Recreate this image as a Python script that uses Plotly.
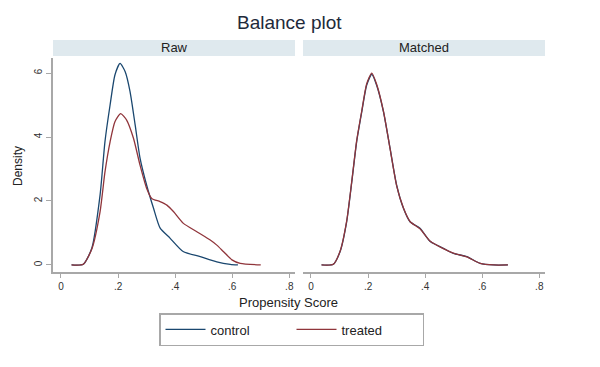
import plotly.graph_objects as go
from plotly.subplots import make_subplots

# Raw panel
raw_ctrl_x = [0.037, 0.078, 0.108, 0.137, 0.154, 0.172, 0.189, 0.207, 0.225, 0.242, 0.26, 0.277, 0.30, 0.324, 0.347, 0.382, 0.428, 0.488, 0.546, 0.593, 0.62]
raw_ctrl_y = [0.0, 0.02, 0.52, 2.19, 3.85, 5.0, 5.94, 6.3, 6.04, 5.42, 4.37, 3.34, 2.5, 1.78, 1.16, 0.84, 0.42, 0.26, 0.1, 0.02, 0.0]
raw_trt_x = [0.037, 0.078, 0.108, 0.137, 0.154, 0.172, 0.189, 0.209, 0.23, 0.254, 0.277, 0.30, 0.318, 0.347, 0.371, 0.394, 0.429, 0.476, 0.523, 0.546, 0.569, 0.599, 0.628, 0.70]
raw_trt_y = [0.0, 0.02, 0.5, 1.67, 2.9, 3.85, 4.48, 4.73, 4.53, 3.96, 3.12, 2.4, 2.08, 1.98, 1.87, 1.67, 1.3, 1.04, 0.78, 0.62, 0.42, 0.16, 0.05, 0.0]

# Matched panel
m_ctrl_x = [0.037, 0.078, 0.102, 0.125, 0.143, 0.16, 0.178, 0.195, 0.213, 0.23, 0.254, 0.277, 0.30, 0.324, 0.347, 0.382, 0.418, 0.464, 0.499, 0.546, 0.593, 0.64, 0.69]
m_ctrl_y = [0.0, 0.02, 0.42, 1.35, 2.6, 3.85, 4.79, 5.62, 5.96, 5.62, 4.79, 3.65, 2.5, 1.77, 1.35, 1.15, 0.73, 0.52, 0.36, 0.26, 0.05, 0.0, 0.0]
m_trt_x = [0.037, 0.078, 0.102, 0.125, 0.143, 0.16, 0.178, 0.195, 0.213, 0.23, 0.254, 0.277, 0.30, 0.324, 0.347, 0.382, 0.418, 0.464, 0.499, 0.546, 0.593, 0.64, 0.69]
m_trt_y = [0.0, 0.02, 0.43, 1.37, 2.62, 3.88, 4.82, 5.66, 6.0, 5.65, 4.8, 3.64, 2.48, 1.78, 1.36, 1.13, 0.74, 0.51, 0.37, 0.25, 0.05, 0.0, 0.0]

x_tickvals = [0, 0.2, 0.4, 0.6, 0.8]
x_ticktext = ["0", ".2", ".4", ".6", ".8"]
y_tickvals = [0, 2, 4, 6]
y_ticktext = ["0", "2", "4", "6"]

NAVY = "#1a476f"
MAROON = "#90353b"
FONT = "Liberation Sans, Arial, sans-serif"

fig = make_subplots(rows=1, cols=2, shared_yaxes=True)

fig.add_trace(go.Scatter(x=raw_ctrl_x, y=raw_ctrl_y, mode="lines", name="control",
                         line=dict(color=NAVY, width=1.3, shape="spline", smoothing=0.6)), 1, 1)
fig.add_trace(go.Scatter(x=raw_trt_x, y=raw_trt_y, mode="lines", name="treated",
                         line=dict(color=MAROON, width=1.3, shape="spline", smoothing=0.6)), 1, 1)
fig.add_trace(go.Scatter(x=m_ctrl_x, y=m_ctrl_y, mode="lines", name="control", showlegend=False,
                         line=dict(color=NAVY, width=1.3, shape="spline", smoothing=0.6)), 1, 2)
fig.add_trace(go.Scatter(x=m_trt_x, y=m_trt_y, mode="lines", name="treated", showlegend=False,
                         line=dict(color=MAROON, width=1.3, shape="spline", smoothing=0.6)), 1, 2)

H = 367.0
W = 600.0
def py(p):
    return 1 - p / H
def px(p):
    return p / W

xaxis_common = dict(range=[-0.028, 0.82], tickvals=x_tickvals, ticktext=x_ticktext,
                    showgrid=False, zeroline=False, showline=True, linecolor="#a8a8a8", linewidth=1.5,
                    ticks="outside", ticklen=4, tickcolor="#a8a8a8",
                    tickfont=dict(size=10, color="#333333", family=FONT))
fig.update_layout(
    xaxis=dict(domain=[px(53), px(295)], **xaxis_common),
    xaxis2=dict(domain=[px(303), px(545)], **xaxis_common),
    yaxis=dict(domain=[py(272), py(58)], range=[-0.22, 6.47], tickvals=y_tickvals, ticktext=y_ticktext,
               showgrid=False, zeroline=False, showline=True, linecolor="#a8a8a8", linewidth=1.5,
               ticks="outside", ticklen=5, tickcolor="#a8a8a8", tickangle=-90,
               tickfont=dict(size=10, color="#333333", family=FONT)),
    yaxis2=dict(domain=[py(272), py(58)], range=[-0.22, 6.47], showgrid=False, zeroline=False,
                showline=False, showticklabels=False, ticks=""),
    width=600, height=367,
    margin=dict(l=0, r=0, t=0, b=0),
    paper_bgcolor="white", plot_bgcolor="white",
    font=dict(family=FONT, color="#222222"),
    showlegend=True,
    legend=dict(orientation="h", x=px(159), y=py(313), xanchor="left", yanchor="top",
                bordercolor="#a8a8a8", borderwidth=1.5, bgcolor="white",
                font=dict(size=13, color="#222222", family=FONT),
                entrywidth=76, itemwidth=40, tracegroupgap=0),
)

# strip headers
for x0, x1, label in [(53, 295, "Raw"), (303, 545, "Matched")]:
    fig.add_shape(type="rect", xref="paper", yref="paper", x0=px(x0), x1=px(x1), y0=py(56), y1=py(40),
                  fillcolor="#dfe9ee", line=dict(width=0), layer="below")
    fig.add_annotation(text=label, xref="paper", yref="paper", x=px((x0 + x1) / 2), y=py(48),
                       showarrow=False, font=dict(size=13, color="#222222", family=FONT),
                       xanchor="center", yanchor="middle")

fig.add_annotation(text="Balance plot", xref="paper", yref="paper", x=px(289), y=py(22),
                   showarrow=False, font=dict(size=19, color="#1e2a3a", family=FONT),
                   xanchor="center", yanchor="middle")
fig.add_annotation(text="Propensity Score", xref="paper", yref="paper", x=px(288), y=py(302),
                   showarrow=False, font=dict(size=13, color="#222222", family=FONT),
                   xanchor="center", yanchor="middle")
fig.add_annotation(text="Density", xref="paper", yref="paper", x=px(18), y=py(166),
                   showarrow=False, textangle=-90, font=dict(size=12, color="#222222", family=FONT),
                   xanchor="center", yanchor="middle")

fig.write_html("out.html")
